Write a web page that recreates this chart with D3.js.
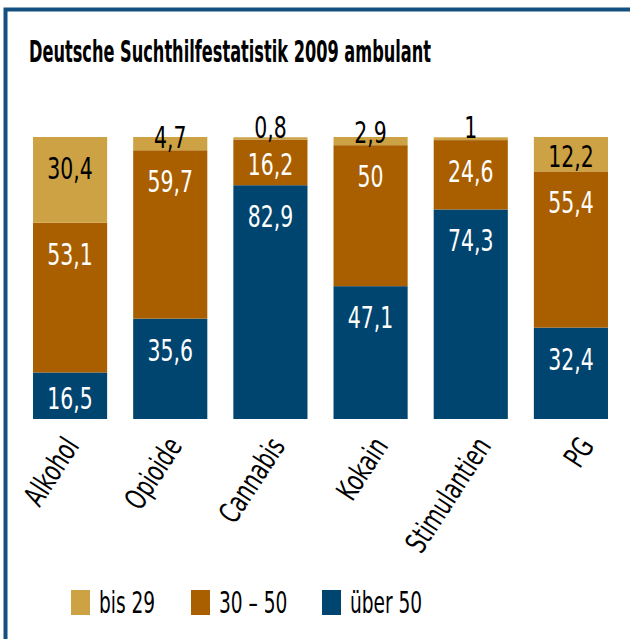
<!DOCTYPE html>
<html>
<head>
<meta charset="utf-8">
<script src="https://cdn.jsdelivr.net/npm/d3@7"></script>
<style>
  body { margin: 0; background: #fff; }
  svg text { font-family: "Liberation Sans Narrow", "DejaVu Sans Condensed", sans-serif; }
</style>
</head>
<body>
<svg id="chart" width="630" height="639"></svg>
<script>
const categories = ['Alkohol', 'Opioide', 'Cannabis', 'Kokain', 'Stimulantien', 'PG']
const seriesNames = ['über 50', '30 – 50', 'bis 29']
const over50 = [16.5, 35.6, 82.9, 47.1, 74.3, 32.4]
const mid30to50 = [53.1, 59.7, 16.2, 50, 24.6, 55.4]
const upTo29 = [30.4, 4.7, 0.8, 2.9, 1, 12.2]
const legendOrder = ['bis 29', '30 – 50', 'über 50']

const COLORS = {'bis 29': '#cca244', '30 – 50': '#a95f00', 'über 50': '#00456f'}
const BORDER = '#13507f'
const SQUEEZE = 0.77
const FONT_SIZE = 29.5

const svg = d3.select('#chart')
const fmt = v => String(v).replace('.', ',')

// narrow the fallback font so it looks like the condensed original
function squeeze(sel, k) {
    sel.each(function() {
        const len = this.getComputedTextLength()
        d3.select(this)
            .attr('textLength', len * (k || SQUEEZE))
            .attr('lengthAdjust', 'spacingAndGlyphs')
    })
}

// frame
svg.append('path')
    .attr('d', 'M5.5,639 V9.5 H630')
    .attr('fill', 'none')
    .attr('stroke', BORDER)
    .attr('stroke-width', 4)

svg.append('text')
    .attr('x', 29)
    .attr('y', 62)
    .attr('font-size', 30)
    .attr('font-weight', 'bold')
    .attr('textLength', 402)
    .attr('lengthAdjust', 'spacingAndGlyphs')
    .text('Deutsche Suchthilfestatistik 2009 ambulant')

const table = categories.map((c, i) => ({
    cat: c,
    'über 50': over50[i],
    '30 – 50': mid30to50[i],
    'bis 29': upTo29[i]
}))

const stack = d3.stack().keys(seriesNames)(table)

const x = d3.scaleBand().domain(categories).range([23, 618]).paddingInner(0.26).paddingOuter(0.1)
const y = d3.scaleLinear().domain([0, 100]).range([419, 137])
const xLabel = d3.scalePoint().domain(categories).range([80, 595])

const layers = svg.append('g').selectAll('g')
    .data(stack)
    .join('g')
    .attr('fill', d => COLORS[d.key])

layers.selectAll('rect')
    .data(d => d)
    .join('rect')
    .attr('x', d => x(d.data.cat))
    .attr('width', x.bandwidth())
    .attr('y', d => y(d[1]))
    .attr('height', d => y(d[0]) - y(d[1]))

// value labels
const valueLabels = svg.append('g')
stack.forEach(layer => {
    layer.forEach(d => {
        const top = y(d[1])
        const h = y(d[0]) - top
        const small = h < 25
        valueLabels.append('text')
            .attr('x', x(d.data.cat) + x.bandwidth() / 2)
            .attr('y', small ? top + h - 2 : top + Math.min(h / 2 + 13, 42))
            .attr('text-anchor', 'middle')
            .attr('font-size', FONT_SIZE)
            .attr('fill', (small || layer.key === 'bis 29') ? '#000' : '#fff')
            .text(fmt(d.data[layer.key]))
    })
})
squeeze(valueLabels.selectAll('text'))

// category labels
svg.append('g').selectAll('text')
    .data(categories)
    .join('text')
    .attr('transform', d => `translate(${xLabel(d)},446) rotate(-57)`)
    .attr('text-anchor', 'end')
    .attr('font-size', FONT_SIZE)
    .text(d => d)
    .call(squeeze)

// legend
const legendX = [71, 191, 322]
const legend = svg.append('g').selectAll('g')
    .data(legendOrder)
    .join('g')
    .attr('transform', (d, i) => `translate(${legendX[i]},590)`)

legend.append('rect')
    .attr('width', 19)
    .attr('height', 25)
    .attr('fill', d => COLORS[d])

legend.append('text')
    .attr('x', 28)
    .attr('y', 23)
    .attr('font-size', FONT_SIZE)
    .text(d => d)
    .call(squeeze, 0.7)
</script>
</body>
</html>
